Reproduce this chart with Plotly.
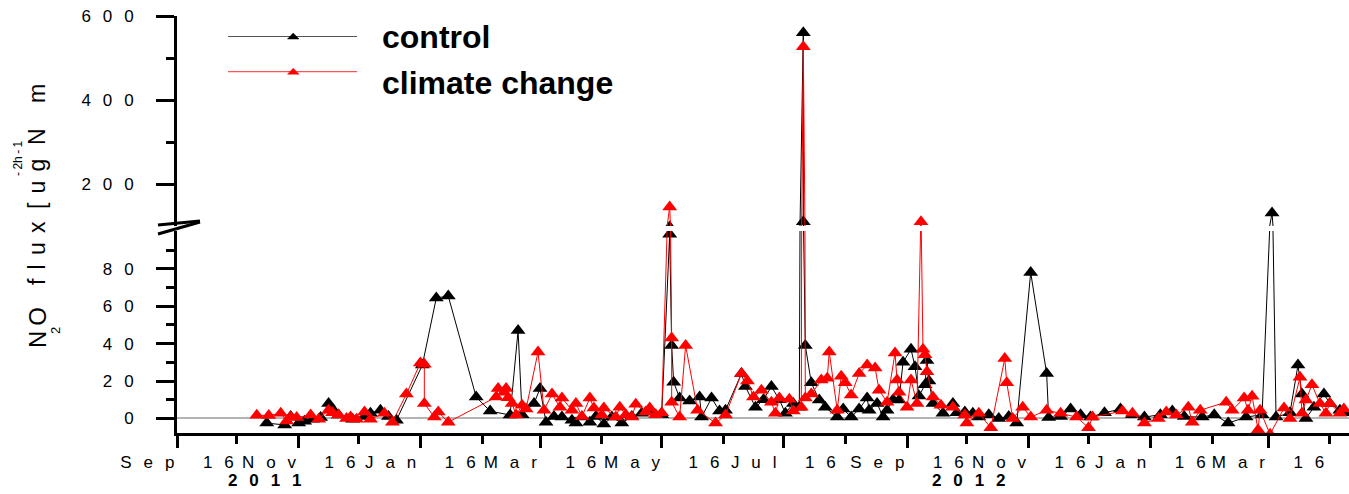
import plotly.graph_objects as go

# ---- NO2 flux, control plots ----
ctrl_date = [
    "2011-10-31", "2011-11-09", "2011-11-12", "2011-11-16", "2011-11-19", "2011-11-23", "2011-11-27",
    "2011-12-01", "2011-12-03", "2011-12-06", "2011-12-13", "2011-12-19", "2011-12-22", "2011-12-27",
    "2011-12-31", "2012-01-04", "2012-01-17", "2012-01-24", "2012-01-30", "2012-02-13", "2012-02-20",
    "2012-03-01", "2012-03-05", "2012-03-07", "2012-03-13", "2012-03-16", "2012-03-19", "2012-03-23",
    "2012-03-27", "2012-04-01", "2012-04-03", "2012-04-06", "2012-04-10", "2012-04-13", "2012-04-17",
    "2012-04-21", "2012-04-26", "2012-05-01", "2012-05-06", "2012-05-11", "2012-05-16", "2012-05-20",
    "2012-05-21", "2012-05-22", "2012-05-25", "2012-05-30", "2012-06-04", "2012-06-05", "2012-06-10",
    "2012-06-14", "2012-06-17", "2012-06-25", "2012-06-27", "2012-07-02", "2012-07-06", "2012-07-10",
    "2012-07-14", "2012-07-17", "2012-07-21", "2012-07-24", "2012-07-26", "2012-07-26", "2012-07-27",
    "2012-07-30", "2012-08-03", "2012-08-06", "2012-08-12", "2012-08-15", "2012-08-19", "2012-08-23",
    "2012-08-27", "2012-08-28", "2012-09-01", "2012-09-04", "2012-09-06", "2012-09-09", "2012-09-12",
    "2012-09-14", "2012-09-18", "2012-09-20", "2012-09-22", "2012-09-25", "2012-09-26", "2012-09-27",
    "2012-09-29", "2012-10-04", "2012-10-09", "2012-10-11", "2012-10-15", "2012-10-19", "2012-10-22",
    "2012-10-27", "2012-11-01", "2012-11-06", "2012-11-10", "2012-11-17", "2012-11-25", "2012-11-26",
    "2012-12-02", "2012-12-07", "2012-12-12", "2012-12-17", "2012-12-24", "2013-01-01", "2013-01-07",
    "2013-01-13", "2013-01-21", "2013-01-27", "2013-02-02", "2013-02-11", "2013-02-17", "2013-02-24",
    "2013-03-05", "2013-03-13", "2013-03-18", "2013-03-20", "2013-03-27", "2013-03-31", "2013-04-02",
    "2013-04-04", "2013-04-08", "2013-04-13", "2013-04-16", "2013-04-21", "2013-04-24",
]
ctrl_flux = [
    -2.5, -3.5, 1.0, -2.5, -1.5, -0.4, 0.5,
    8, 5, 1.8, -0.4, 1.0, 2.8, 4.4,
    1.0, -1.0, 28.5, 64.4, 65.4, 11.4, 3.9,
    1.8, 47, 2.0, 8, 16, -2, 1,
    0.7, -1, -2.5, 0.7, -2, 1, -3,
    0.7, -2.5, 1, 2.8, 3.4, 2, 98.5,
    39, 19.4, 10.9, 9.3, 11.4, 0.7, 10.9,
    4, 4.4, 24, 17, 6, 10, 17,
    10, 2.8, 8, 6, 560, 111, 39,
    19, 9.8, 6, 0.7, 5, 0.7, 5,
    10.9, 4.4, 8, 0.7, 4.4, 10, 9.8,
    30, 37, 27.6, 12, 18, 31, 20,
    8, 2.8, 8, 3, 3.4, 2.8, 0.7,
    2, 0, 1, -2.5, 78, 24, 0.5,
    1, 5, 2, 0.7, 3, 5, 2,
    0.7, 2, 3.9, 1, 0.7, 2, -2.5,
    0.7, 2, 132, 0.7, 3, 28.5, 13,
    0, 6, 13, 8, 4.4, 3,
]

# ---- NO2 flux, climate change plots ----
cc_date = [
    "2011-10-26", "2011-11-01", "2011-11-07", "2011-11-10", "2011-11-12", "2011-11-15", "2011-11-22",
    "2011-11-26", "2011-12-01", "2011-12-03", "2011-12-06", "2011-12-10", "2011-12-12", "2011-12-15",
    "2011-12-19", "2011-12-22", "2011-12-29", "2012-01-02", "2012-01-09", "2012-01-16", "2012-01-18",
    "2012-01-18", "2012-01-23", "2012-01-25", "2012-01-30", "2012-02-23", "2012-02-24", "2012-02-27",
    "2012-02-28", "2012-02-29", "2012-03-02", "2012-03-04", "2012-03-07", "2012-03-09", "2012-03-15",
    "2012-03-18", "2012-03-22", "2012-03-26", "2012-03-27", "2012-04-01", "2012-04-03", "2012-04-06",
    "2012-04-10", "2012-04-12", "2012-04-16", "2012-04-17", "2012-04-23", "2012-04-25", "2012-04-28",
    "2012-05-01", "2012-05-03", "2012-05-08", "2012-05-10", "2012-05-13", "2012-05-16", "2012-05-20",
    "2012-05-21", "2012-05-21", "2012-05-25", "2012-05-28", "2012-06-03", "2012-06-12", "2012-06-17",
    "2012-06-25", "2012-06-28", "2012-07-01", "2012-07-05", "2012-07-10", "2012-07-12", "2012-07-14",
    "2012-07-19", "2012-07-21", "2012-07-25", "2012-07-26", "2012-07-27", "2012-07-30", "2012-08-04",
    "2012-08-07", "2012-08-08", "2012-08-12", "2012-08-14", "2012-08-16", "2012-08-19", "2012-08-23",
    "2012-08-27", "2012-08-31", "2012-09-02", "2012-09-06", "2012-09-10", "2012-09-11", "2012-09-12",
    "2012-09-16", "2012-09-18", "2012-09-21", "2012-09-23", "2012-09-24", "2012-09-25", "2012-09-26",
    "2012-09-29", "2012-10-03", "2012-10-09", "2012-10-15", "2012-10-16", "2012-10-22", "2012-10-28",
    "2012-11-04", "2012-11-05", "2012-11-08", "2012-11-13", "2012-11-17", "2012-11-25", "2012-12-02",
    "2012-12-10", "2012-12-16", "2012-12-18", "2013-01-02", "2013-01-07", "2013-01-13", "2013-01-20",
    "2013-01-24", "2013-01-29", "2013-02-04", "2013-02-06", "2013-02-10", "2013-02-23", "2013-02-26",
    "2013-03-04", "2013-03-06", "2013-03-08", "2013-03-11", "2013-03-12", "2013-03-17", "2013-03-24",
    "2013-03-27", "2013-04-01", "2013-04-02", "2013-04-04", "2013-04-07", "2013-04-11", "2013-04-14",
    "2013-04-16", "2013-04-21", "2013-04-23",
]
cc_flux = [
    1.7, 1.5, 2.8, -1.4, 0.7, 0.5, 1.8,
    -0.5, 4.4, 3, 1.8, 0, 0.7, -0.5,
    3.4, -0.4, 2.8, -2, 13, 29.6, 29,
    8, 0.7, 3.4, -2, 11.4, 16, 14,
    16, 11, 8, 1.8, 7, 5, 35.5,
    4.4, 13, 6, 10.9, 4.4, 8, 1,
    10.9, 5.5, 1.8, 5.5, 0.7, 6, 2,
    0.7, 7.6, 3.4, 5.5, 2, 3, 146,
    43, 8.7, 0.7, 39, 4.4, -2.5, 1.8,
    24, 20, 11.4, 15, 8.7, 2.8, 10.9,
    10.3, 4, 6, 527, 10.9, 13, 20.5,
    21.5, 35.5, 4.4, 22.6, 19, 12.5, 24,
    28.5, 27, 15, 8.7, 35, 20.5, 14,
    6, 20.5, 8, 111, 37, 34, 25,
    11.4, 7, 6, 1.8, -2.5, 2.8, -5,
    32, 19, 0, 6, 0.7, 4.4, 2.8,
    0.7, -5, 0.7, 3.9, 2.8, -2.5, 0,
    3.4, 1.8, 6, -2, 4.4, 8.7, 4.4,
    10.9, 4.4, 11.9, -6.2, 4.4, -8.5, 5.5,
    0, 22, 2.8, 9.8, 18, 8, 2.8,
    8, 2.8, 5,
]

if len(ctrl_date) != len(ctrl_flux) or len(cc_date) != len(cc_flux):
    raise ValueError("date/flux length mismatch")

# ---- axis ticks and labels ----
x_tick_dates = ["2011-09-16", "2011-11-16", "2012-01-16", "2012-03-16", "2012-05-16",
                "2012-07-16", "2012-09-16", "2012-11-16", "2013-01-16", "2013-03-16"]
x_tick_labels = ["Sep 16", "Nov 16", "Jan 16", "Mar 16", "May 16",
                 "Jul 16", "Sep 16", "Nov 16", "Jan 16", "Mar 16"]
x_minor_dates = ["2011-10-16", "2011-12-16", "2012-02-16", "2012-04-16", "2012-06-16",
                 "2012-08-16", "2012-10-16", "2012-12-16", "2013-02-16", "2013-04-16"]
year_labels = ["2011", "2012"]
year_label_dates = ["2011-10-30", "2012-10-17"]
y_low_ticks = [0, 20, 40, 60, 80]
y_low_minor = [10, 30, 50, 70, 90]
y_high_ticks = [200, 400, 600]
y_high_minor = [300, 500]

series_names = ["control", "climate change"]
series_colors = ["#000000", "#ff0000"]

# ---- page geometry (pixels) ----
W, H = 1349, 494
L, R, T, B = 177, 0, 16, 61
PW, PH = W - L - R, H - T - B

FONT = "Liberation Sans, Arial, Helvetica, sans-serif"
GAP = "\u2002\u2009"                 # letter gap of the axis labels
WGAP = GAP + GAP + "\u00a0"          # word gap of the axis labels


def spread(text):
    return WGAP.join(GAP.join(word) for word in text.split(" "))


def px(x):
    return (x - L) / PW


def py(y):
    return (H - B - y) / PH


fig = go.Figure()

for dates, flux, color in ((ctrl_date, ctrl_flux, series_colors[0]),
                           (cc_date, cc_flux, series_colors[1])):
    for yax in ("y", "y2"):
        fig.add_trace(go.Scatter(
            x=dates, y=flux, xaxis="x", yaxis=yax, mode="lines+markers",
            line=dict(color=color, width=1),
            marker=dict(symbol="triangle-up", size=13, color=color, line=dict(width=0)),
            showlegend=False, hoverinfo="skip",
        ))

axis_common = dict(
    showline=True, linecolor="black", linewidth=3, mirror=False,
    ticks="outside", tickcolor="black", tickwidth=3,
    showgrid=False, tickfont=dict(family=FONT, size=17, color="black"),
)

fig.update_layout(
    width=W, height=H, autosize=False,
    margin=dict(l=L, r=R, t=T, b=B, pad=0),
    paper_bgcolor="white", plot_bgcolor="white",
    showlegend=False,
    xaxis=dict(
        type="date", range=["2011-09-16", "2013-04-25 14:00"], anchor="y",
        tickmode="array", tickvals=x_tick_dates,
        ticktext=[spread(t) for t in x_tick_labels],
        ticklen=12, zeroline=False,
        minor=dict(tickmode="array", tickvals=x_minor_dates, ticklen=8,
                   tickwidth=3, tickcolor="black", ticks="outside", showgrid=False),
        **axis_common,
    ),
    yaxis=dict(
        domain=[0, py(231)], range=[-7.8, 100.2], anchor="x",
        tickmode="array", tickvals=y_low_ticks,
        ticktext=[spread(str(v)) for v in y_low_ticks],
        ticklen=18, ticklabelstandoff=19,
        zeroline=True, zerolinecolor="#b4b4b4", zerolinewidth=1.5,
        minor=dict(tickmode="array", tickvals=y_low_minor, ticklen=8,
                   tickwidth=3, tickcolor="black", ticks="outside", showgrid=False),
        **axis_common,
    ),
    yaxis2=dict(
        domain=[py(226), 1], range=[101.1, 600], anchor="x",
        tickmode="array", tickvals=y_high_ticks,
        ticktext=[spread(str(v)) for v in y_high_ticks],
        ticklen=18, ticklabelstandoff=19, zeroline=False,
        minor=dict(tickmode="array", tickvals=y_high_minor, ticklen=8,
                   tickwidth=3, tickcolor="black", ticks="outside", showgrid=False),
        **axis_common,
    ),
)

shapes = []
# axis break marks
for (x0, y0, x1, y1) in ((158, 225, 200, 221), (158, 234, 200, 222)):
    shapes.append(dict(type="line", xref="paper", yref="paper",
                       x0=px(x0), y0=py(y0), x1=px(x1), y1=py(y1),
                       line=dict(color="black", width=3)))

# legend samples
legend_rows = [(36.5, "#555555", "#000000", 380, 37), (71.7, "#ff5555", "#ff0000", 380, 83)]
for (ly, lcolor, mcolor, _, _) in legend_rows:
    shapes.append(dict(type="line", xref="paper", yref="paper",
                       x0=px(228), y0=py(ly), x1=px(357), y1=py(ly),
                       line=dict(color=lcolor, width=1.2)))
    tri = "M{:.5f},{:.5f} L{:.5f},{:.5f} L{:.5f},{:.5f} Z".format(
        px(287.5), py(ly + 2.5), px(299), py(ly + 2.5), px(293.2), py(ly - 3.5))
    shapes.append(dict(type="path", xref="paper", yref="paper", path=tri,
                       fillcolor=mcolor, line=dict(color=mcolor, width=0.5)))

annotations = []
for (ly, lcolor, mcolor, tx, ty), name in zip(legend_rows, series_names):
    annotations.append(dict(xref="paper", yref="paper", x=px(tx), y=py(ty),
                            xanchor="left", yanchor="middle", showarrow=False,
                            text="<b>" + name + "</b>",
                            font=dict(family=FONT, size=32, color="black")))

# year labels under the date axis
for label, d in zip(year_labels, year_label_dates):
    annotations.append(dict(xref="x", yref="paper", x=d, y=py(480),
                            xanchor="center", yanchor="middle", showarrow=False,
                            text="<b>" + GAP.join(label) + "</b>",
                            font=dict(family=FONT, size=17, color="black")))

# y-axis title pieces (rotated)
thin = "\u2009\u2009"
title_parts = [
    ("N\u2009O", 37, 328, 24),
    ("2", 55, 331, 13),
    (thin.join("flux"), 37, 253, 23),
    ("[" + thin + "u" + thin + "g", 37, 184, 23),
    ("N", 37, 137, 23),
    ("m", 37, 94, 23),
    ("-\u20092h\u2009-\u20091", 18, 158, 12),
]
for text, x, y, size in title_parts:
    annotations.append(dict(xref="paper", yref="paper", x=px(x), y=py(y),
                            xanchor="center", yanchor="middle", showarrow=False,
                            textangle=-90, text=text,
                            font=dict(family=FONT, size=size, color="black")))

fig.update_layout(shapes=shapes, annotations=annotations)

fig.write_html("out.html")
